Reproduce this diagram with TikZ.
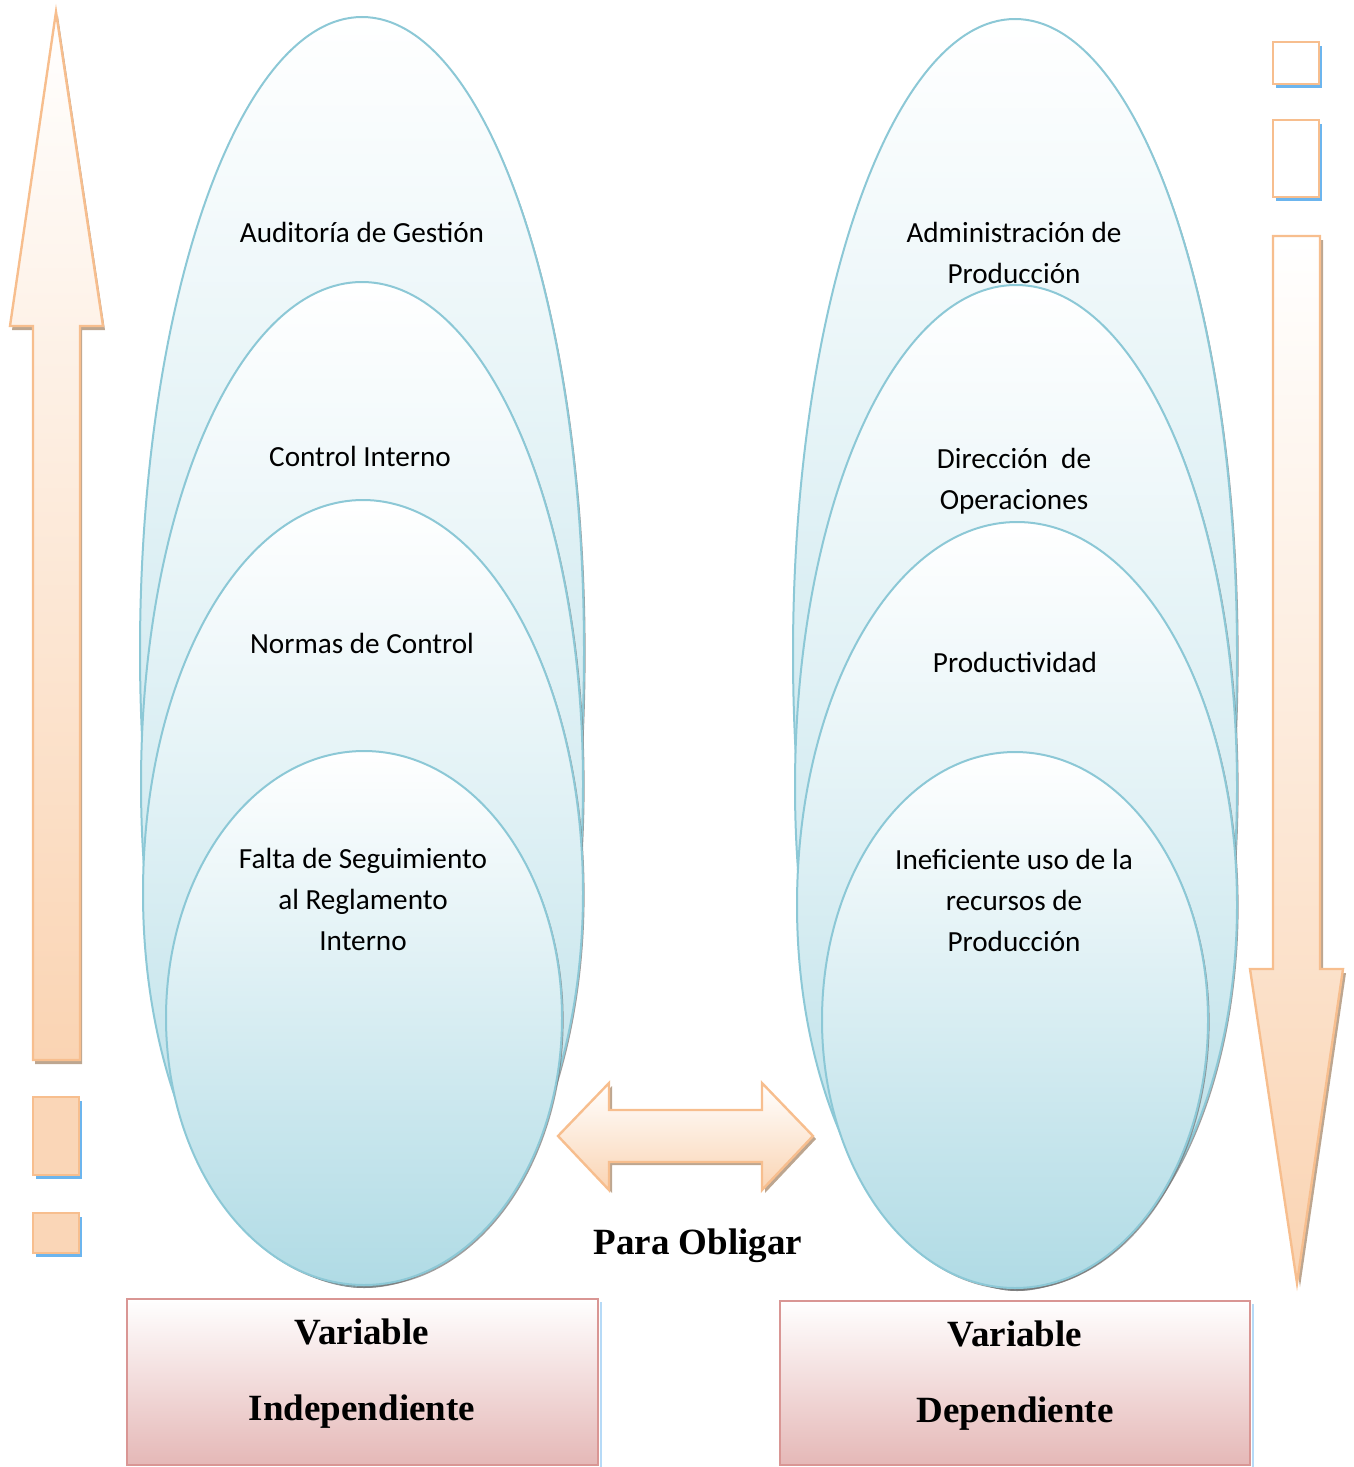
\documentclass[tikz,border=0pt]{standalone}
\usepackage{fontspec}
\setmainfont{Carlito}
\newfontfamily\serifb{Liberation Serif}
\usetikzlibrary{shapes.geometric,shadows}
\definecolor{ebord}{HTML}{8CC8D6}
\definecolor{ebot}{HTML}{B0DBE5}
\definecolor{abord}{HTML}{F7BE8E}
\definecolor{apeach}{HTML}{FAD4B3}
\definecolor{bbord}{HTML}{D99694}
\definecolor{bbot}{HTML}{E5B8B7}
\definecolor{sblue}{HTML}{6CB5EE}
\definecolor{sbrown}{HTML}{A08060}
\begin{document}
\begin{tikzpicture}[x=0.5pt,y=-0.5pt,
  ell/.style={ellipse, draw=ebord, line width=1pt, top color=white, bottom color=ebot, inner sep=0pt,
    drop shadow={shadow xshift=0.8pt, shadow yshift=-1pt, fill=black!55, opacity=0.7}},
  etext/.style={align=center, font=\fontsize{14.6}{20.5}\selectfont},
  arrowshape/.style={draw=abord, line width=1.2pt, top color=white, bottom color=apeach},
  ashadow/.style={fill=sbrown!70},
  sqpeach/.style={draw=abord, line width=1.2pt, fill=apeach!95!white},
  sqwhite/.style={draw=abord, line width=1.2pt, fill=white},
  sqshadow/.style={fill=sblue},
  varbox/.style={draw=bbord, line width=1.2pt, top color=white, bottom color=bbot},
  vtext/.style={align=center, font=\serifb\bfseries\fontsize{18.5}{38}\selectfont},
]
\useasboundingbox (0,0) rectangle (1354,1467);

% ---------- left ellipses ----------
\node[ell, minimum width=222pt, minimum height=634pt] (L1) at (362,651) {};
\node[ell, minimum width=221pt, minimum height=502pt] (L2) at (362,784) {};
\node[ell, minimum width=220pt, minimum height=393pt] (L3) at (363,893) {};
\node[ell, minimum width=198pt, minimum height=267pt] (L4) at (364,1018) {};
\node[etext] (tL1) at (362,232) {Auditoría de Gestión};
\node[etext] (tL2) at (360,456) {Control Interno};
\node[etext] (tL3) at (362,643) {Normas de Control};
\node[etext] (tL4) at (363,899) {Falta de Seguimiento\\al Reglamento\\Interno};

% ---------- right ellipses ----------
\node[ell, minimum width=222pt, minimum height=635pt] (R1) at (1015,654) {};
\node[ell, minimum width=221pt, minimum height=502pt] (R2) at (1016,787) {};
\node[ell, minimum width=220pt, minimum height=383pt] (R3) at (1017,905) {};
\node[ell, minimum width=193pt, minimum height=268pt] (R4) at (1015,1020) {};
\node[etext] (tR1) at (1014,253) {Administración de\\Producción};
\node[etext] (tR2) at (1014,481) {Dirección\ \ de\\Operaciones};
\node[etext] (tR3) at (1015,662) {Productividad};
\node[etext] (tR4) at (1014,900) {Ineficiente uso de la\\recursos de\\Producción};

% ---------- up arrow (left) ----------
\fill[ashadow] (58,16) -- (105,330) -- (82,330) -- (82,1064) -- (35,1064) -- (35,330) -- (12,330) -- cycle;
\path[arrowshape] (56,12) -- (103,326) -- (80,326) -- (80,1060) -- (33,1060) -- (33,326) -- (10,326) -- cycle;

% left squares
\fill[sqshadow] (36,1101) rectangle (82,1179);
\path[sqpeach] (33,1097) rectangle (79,1175);
\fill[sqshadow] (36,1217) rectangle (82,1257);
\path[sqpeach] (33,1213) rectangle (79,1253);

% ---------- right squares ----------
\fill[sqshadow] (1276,46) rectangle (1322,88);
\path[sqwhite] (1273,42) rectangle (1319,84);
\fill[sqshadow] (1276,124) rectangle (1322,201);
\path[sqwhite] (1273,120) rectangle (1319,197);

% ---------- down arrow (right) ----------
\fill[ashadow] (1276,240) -- (1323,240) -- (1323,973) -- (1346,973) -- (1300,1287) -- (1253,973) -- (1276,973) -- cycle;
\path[arrowshape] (1273,236) -- (1320,236) -- (1320,969) -- (1343,969) -- (1297,1283) -- (1250,969) -- (1273,969) -- cycle;

% ---------- double arrow ----------
\fill[ashadow] (561,1139) -- (612,1086) -- (612,1113) -- (765,1113) -- (765,1086) -- (816,1139) -- (765,1193) -- (765,1165) -- (612,1165) -- (612,1193) -- cycle;
\path[arrowshape] (558,1136) -- (609,1083) -- (609,1110) -- (762,1110) -- (762,1083) -- (813,1136) -- (762,1190) -- (762,1162) -- (609,1162) -- (609,1190) -- cycle;
\node[font=\serifb\bfseries\fontsize{18.5}{22}\selectfont] (po) at (698,1246) {Para Obligar};

% ---------- variable boxes ----------
\fill[sblue!50] (600,1302) rectangle (602,1467);
\path[varbox] (127,1299) rectangle (598,1465);
\node[vtext] (vi) at (362,1374) {Variable\\Independiente};
\fill[sblue!50] (1252,1304) rectangle (1254,1467);
\path[varbox] (780,1301) rectangle (1250,1465);
\node[vtext] (vd) at (1015,1376) {Variable\\Dependiente};
\end{tikzpicture}
\end{document}
